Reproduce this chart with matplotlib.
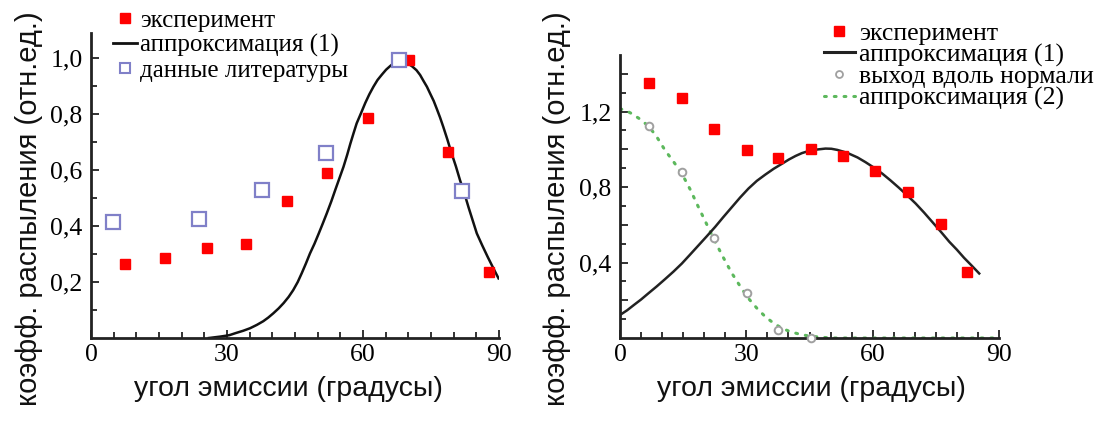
import matplotlib
matplotlib.use("Agg")
import matplotlib.pyplot as plt
from matplotlib.ticker import FixedLocator
from matplotlib.lines import Line2D

# ---------------- data: left panel ----------------
exp_left_x = [7.4, 16.4, 25.5, 34.2, 43.2, 52.1, 61.2, 70.2, 78.7, 87.9]
exp_left_y = [0.265, 0.285, 0.32, 0.335, 0.49, 0.59, 0.785, 0.995, 0.665, 0.235]
lit_left_x = [4.9, 23.8, 37.8, 51.8, 67.9, 81.9]
lit_left_y = [0.415, 0.425, 0.53, 0.66, 0.995, 0.525]
fit1_left_x = [26.0, 28.5, 30.5, 32.0, 33.6, 35.1, 36.6, 38.0, 39.1, 40.2, 41.4, 42.5,
               43.6, 44.6, 45.6, 46.5, 47.4, 48.3, 49.3, 50.2, 51.1, 52.0, 53.0, 53.9,
               54.8, 55.7, 56.5, 57.2, 57.9, 58.6, 59.6, 60.5, 61.4, 62.3, 63.2, 64.2,
               65.1, 66.0, 66.6, 67.2, 67.7, 68.2, 69.1, 70.0, 70.9, 71.8, 72.6, 73.3,
               74.1, 74.8, 75.6, 76.3, 77.0, 77.7, 78.6, 79.5, 80.5, 81.4, 82.4, 83.3,
               84.2, 85.1, 86.3, 87.5, 88.7, 89.9]
fit1_left_y = [0.0, 0.005, 0.010, 0.018, 0.026, 0.035, 0.047, 0.060, 0.073, 0.088,
               0.106, 0.125, 0.147, 0.171, 0.200, 0.232, 0.266, 0.302, 0.337, 0.372,
               0.408, 0.445, 0.488, 0.530, 0.571, 0.612, 0.654, 0.694, 0.731, 0.767,
               0.805, 0.840, 0.871, 0.898, 0.922, 0.942, 0.959, 0.972, 0.980, 0.986,
               0.989, 0.990, 0.987, 0.980, 0.970, 0.957, 0.940, 0.920, 0.898, 0.874,
               0.847, 0.818, 0.788, 0.755, 0.710, 0.662, 0.613, 0.564, 0.515, 0.466,
               0.420, 0.374, 0.331, 0.290, 0.251, 0.213]

# ---------------- data: right panel ----------------
exp_right_x = [7.0, 14.8, 22.4, 30.1, 37.6, 45.4, 53.0, 60.6, 68.3, 76.3, 82.4]
exp_right_y = [1.354, 1.271, 1.106, 0.996, 0.952, 1.0, 0.963, 0.887, 0.776, 0.605, 0.351]
norm_x = [7.0, 14.8, 22.4, 30.1, 37.6, 45.4]
norm_y = [1.123, 0.882, 0.529, 0.236, 0.042, 0.0]
fit1_right_x = [0.0, 1.7, 3.3, 5.0, 6.7, 8.7, 10.7, 12.7, 14.7, 16.6, 18.6, 20.6, 22.6,
                24.5, 26.5, 28.5, 30.5, 32.5, 34.5, 36.5, 38.5, 40.1, 41.7, 43.2, 44.8,
                46.8, 48.8, 50.2, 51.6, 53.0, 54.4, 56.4, 58.3, 60.3, 62.3, 64.2, 66.2,
                68.2, 70.2, 72.2, 74.2, 76.2, 78.2, 80.0, 81.7, 83.5, 85.3]
fit1_right_y = [0.122, 0.147, 0.175, 0.204, 0.236, 0.273, 0.312, 0.352, 0.395, 0.441,
                0.490, 0.539, 0.589, 0.640, 0.692, 0.744, 0.792, 0.833, 0.866, 0.897,
                0.924, 0.946, 0.965, 0.980, 0.991, 0.999, 1.004, 1.003, 0.997, 0.988,
                0.977, 0.957, 0.932, 0.903, 0.871, 0.836, 0.797, 0.756, 0.713, 0.665,
                0.614, 0.563, 0.510, 0.468, 0.425, 0.384, 0.342]
fit2_x = [0.0, 1.4, 2.8, 4.9, 7.0, 8.9, 10.7, 12.7, 14.7, 16.7, 18.6, 20.5, 22.4, 24.5,
          26.6, 28.6, 30.5, 32.5, 34.5, 36.5, 38.5, 40.5, 42.5, 44.5, 46.4, 50.0, 60.0,
          70.0, 80.0, 90.0]
fit2_y = [1.215, 1.206, 1.189, 1.158, 1.118, 1.060, 0.995, 0.935, 0.871, 0.786, 0.695,
          0.607, 0.519, 0.428, 0.342, 0.272, 0.210, 0.158, 0.113, 0.078, 0.051, 0.033,
          0.021, 0.012, 0.007, 0.0, 0.0, 0.0, 0.0, 0.0]

# ---------------- labels ----------------
x_ticks = [0, 30, 60, 90]
x_ticklabels = ["0", "30", "60", "90"]
y_ticks_left = [0.2, 0.4, 0.6, 0.8, 1.0]
y_ticklabels_left = ["0,2", "0,4", "0,6", "0,8", "1,0"]
y_ticks_right = [0.2, 0.4, 0.6, 0.8, 1.0, 1.2, 1.4]
y_ticklabels_right = ["", "0,4", "", "0,8", "", "1,2", ""]
xlabel = "угол эмиссии (градусы)"
ylabel = "коэфф. распыления (отн.ед.)"
leg_left = ["эксперимент", "аппроксимация (1)", "данные литературы"]
leg_right = ["эксперимент", "аппроксимация (1)", "выход вдоль нормали", "аппроксимация (2)"]

W, H = 1110, 446
fig = plt.figure(figsize=(W / 100, H / 100), dpi=100)
fig.patch.set_facecolor("white")

serif = "Liberation Serif"
sans = "Liberation Sans"
RED = "#ff0000"
BLUE = "#8080c8"
GRAY = "#a0a0a0"
GREEN = "#5cb85c"


def px_axes(l, r, b, t):
    return fig.add_axes([l / W, (H - b) / H, (r - l) / W, (b - t) / H])


def style(ax, ymax, yticks, ylabels, yminor):
    ax.set_xlim(0, 90)
    ax.set_ylim(0, ymax)
    for s in ("top", "right"):
        ax.spines[s].set_visible(False)
    for s in ("left", "bottom"):
        ax.spines[s].set_linewidth(2.0)
        ax.spines[s].set_color("#222222")
    ax.xaxis.set_major_locator(FixedLocator(x_ticks))
    ax.set_xticklabels(x_ticklabels)
    ax.xaxis.set_minor_locator(FixedLocator([v for v in range(5, 90, 5) if v % 30]))
    ax.yaxis.set_major_locator(FixedLocator(yticks))
    ax.set_yticklabels(ylabels)
    ax.yaxis.set_minor_locator(FixedLocator(yminor))
    ax.tick_params(which="major", direction="in", length=6, width=1.3, color="#222222",
                   labelsize=18.5, pad=6)
    ax.tick_params(axis="x", which="major", pad=4)
    ax.tick_params(which="minor", direction="in", length=4, width=1.3, color="#222222")
    for lab in ax.get_xticklabels() + ax.get_yticklabels():
        lab.set_fontfamily(serif)


# ---------------- left panel ----------------
axL = px_axes(91, 499, 338, 33)
style(axL, 1.09, y_ticks_left, y_ticklabels_left, [0.1, 0.3, 0.5, 0.7, 0.9])
axL.plot(fit1_left_x, fit1_left_y, color="#111111", lw=1.8, zorder=2)
axL.plot(exp_left_x, exp_left_y, ls="none", marker="s", ms=7, color=RED,
         mec=RED, zorder=3)
axL.plot(lit_left_x, lit_left_y, ls="none", marker="s", ms=9.5, mfc="white",
         mec=BLUE, mew=1.6, zorder=4)

hL = [Line2D([], [], ls="none", marker="s", ms=7, color=RED),
      Line2D([], [], color="#111111", lw=2),
      Line2D([], [], ls="none", marker="s", ms=7, mfc="white", mec=BLUE, mew=1.5)]
fig.legend(hL, leg_left, loc="upper left", bbox_to_anchor=(113 / W, 1 - 9 / H),
           frameon=False, borderpad=0, borderaxespad=0, handlelength=0.95,
           handletextpad=0.15, labelspacing=0.1,
           prop={"family": serif, "size": 18})

# ---------------- right panel ----------------
axR = px_axes(620, 999, 338, 55)
style(axR, 1.5, y_ticks_right, y_ticklabels_right, [0.1, 0.3, 0.5, 0.7, 0.9, 1.1, 1.3])
axR.plot(fit2_x, fit2_y, color=GREEN, lw=2.2, ls=(0, (0.6, 2.6)),
         dash_capstyle="round", zorder=2)
axR.plot(fit1_right_x, fit1_right_y, color="#222222", lw=1.8, zorder=2)
axR.plot(exp_right_x, exp_right_y, ls="none", marker="s", ms=7, color=RED,
         mec=RED, zorder=3)
axR.plot(norm_x, norm_y, ls="none", marker="o", ms=5.5, mfc="white", mec=GRAY,
         mew=1.4, zorder=4, clip_on=False)

hR = [Line2D([], [], ls="none", marker="s", ms=7, color=RED),
      Line2D([], [], color="#222222", lw=2.2),
      Line2D([], [], ls="none", marker="o", ms=5, mfc="white", mec=GRAY, mew=1.3),
      Line2D([], [], color=GREEN, lw=2.2, ls=(0, (0.6, 2.6)), dash_capstyle="round")]
fig.legend(hR, leg_right, loc="upper left", bbox_to_anchor=(824 / W, 1 - 22 / H),
           frameon=False, borderpad=0, borderaxespad=0, handlelength=1.2,
           handletextpad=0.15, labelspacing=-0.06,
           prop={"family": serif, "size": 18.5})

# ---------------- axis titles ----------------
for cx in (288, 811):
    fig.text(cx / W, 1 - 389 / H, xlabel, ha="center", va="center",
             family=sans, fontsize=20.5, color="#111111")
for cx in (29, 557):
    fig.text(cx / W, 1 - 209 / H, ylabel, ha="center", va="center",
             rotation=90, family=sans, fontsize=21, color="#111111")

fig.savefig("out.png", dpi=100, facecolor="white")
